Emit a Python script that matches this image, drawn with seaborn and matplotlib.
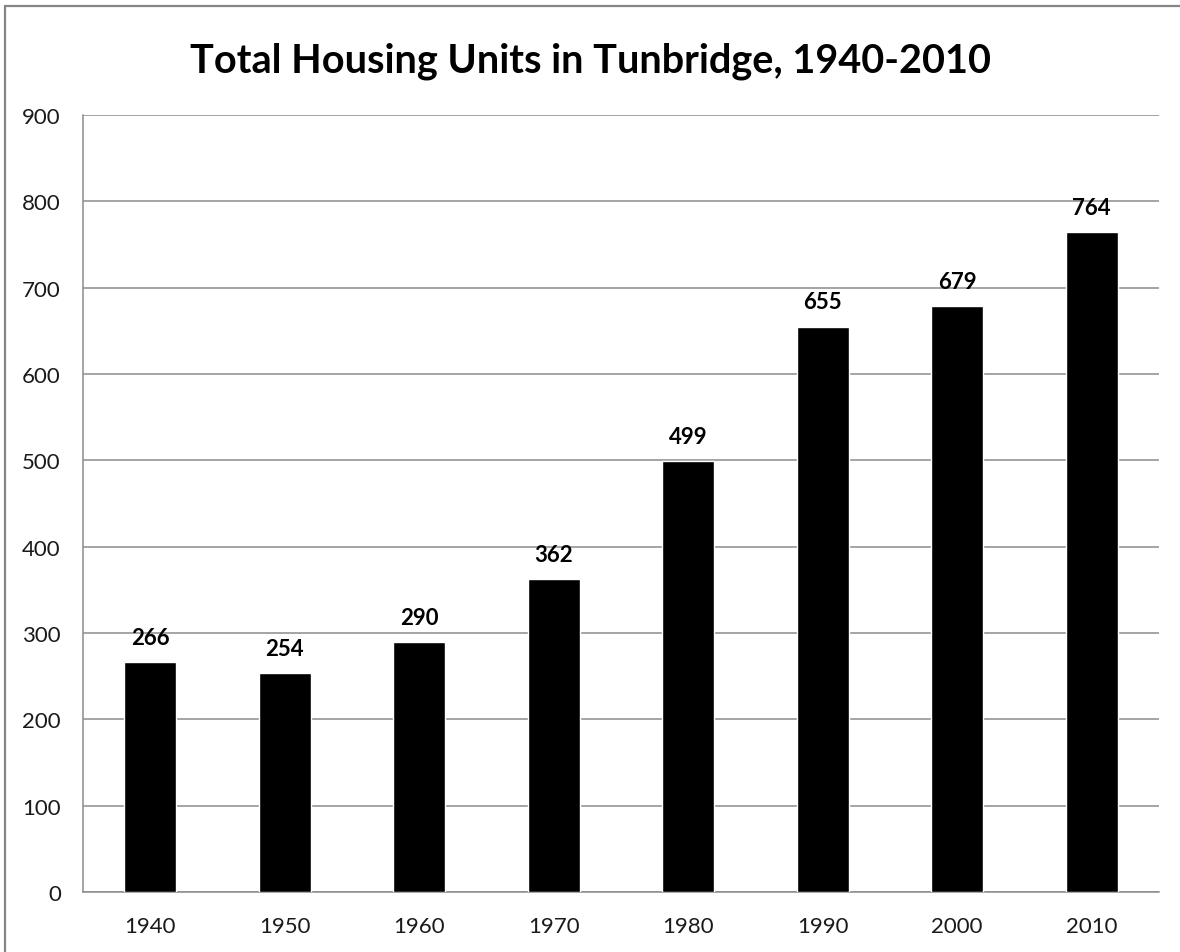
import matplotlib
matplotlib.use("Agg")
import matplotlib.pyplot as plt
from matplotlib.lines import Line2D
import pandas as pd
import seaborn as sns

years = ["1940", "1950", "1960", "1970", "1980", "1990", "2000", "2010"]
units = [266, 254, 290, 362, 499, 655, 679, 764]
y_ticks = [0, 100, 200, 300, 400, 500, 600, 700, 800, 900]

sns.set_theme(style="white")
plt.rcParams["font.family"] = ["Lato", "DejaVu Sans"]

df = pd.DataFrame({"year": years, "units": units})

fig = plt.figure(figsize=(11.8, 9.53), dpi=100)
W, H = 1180, 953
ax = fig.add_axes([83 / W, 1 - 893 / H, (1159 - 83) / W, (893 - 116) / H])

sns.barplot(data=df, x="year", y="units", color="black", width=0.39,
            saturation=1, ax=ax, zorder=3)

ax.set_ylim(0, 900)
ax.set_yticks(y_ticks)
ax.yaxis.grid(True, color="#8c8c8c", linewidth=1.1, zorder=0)
ax.set_axisbelow(True)
ax.set_xlabel("")
ax.set_ylabel("")
ax.tick_params(axis="both", length=0, labelsize=16, labelcolor="#1a1a1a")
ax.tick_params(axis="x", pad=17)
ax.tick_params(axis="y", pad=16)
for s in ["top", "right"]:
    ax.spines[s].set_visible(False)
for s in ["left", "bottom"]:
    ax.spines[s].set_color("#8c8c8c")
    ax.spines[s].set_linewidth(1.1)

for p, v in zip(ax.patches, units):
    ax.annotate(f"{v}", (p.get_x() + p.get_width() / 2, v),
                xytext=(0, 13), textcoords="offset points",
                ha="center", va="baseline", fontsize=16, fontweight="bold",
                color="black")

fig.text(0.5, 1 - 72 / H, "Total Housing Units in Tunbridge, 1940-2010",
         ha="center", va="baseline", fontsize=28.5, fontweight="bold",
         color="black")

# outer chart border (only top and left edges visible)
fig.add_artist(Line2D([5 / W, 1], [1 - 7 / H, 1 - 7 / H],
                      transform=fig.transFigure, color="#868686", linewidth=1.6))
fig.add_artist(Line2D([5 / W, 5 / W], [0, 1 - 7 / H],
                      transform=fig.transFigure, color="#868686", linewidth=1.6))

fig.savefig("out.png", dpi=100)
